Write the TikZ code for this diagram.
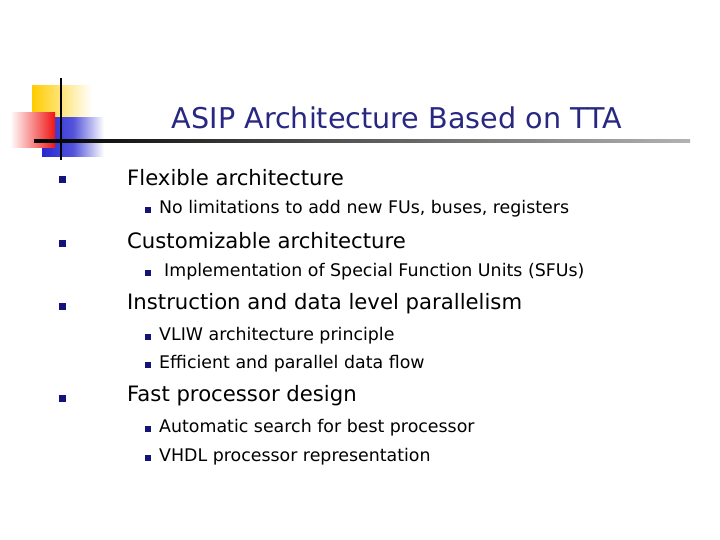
\documentclass[tikz,border=0pt]{standalone}
\usepackage{fontspec}
\setmainfont{DejaVu Sans}
\definecolor{navy}{RGB}{40,40,130}
\definecolor{bul}{RGB}{20,20,120}
\definecolor{ylw}{RGB}{255,204,0}
\definecolor{rd}{RGB}{240,20,20}
\definecolor{bl}{RGB}{40,40,210}
\begin{document}
\begin{tikzpicture}[x=1pt,y=-1pt,
  lone/.style={anchor=west,inner sep=0pt,font=\fontsize{21.2}{24}\selectfont},
  ltwo/.style={anchor=west,inner sep=0pt,font=\fontsize{17.4}{20}\selectfont},
  bone/.style={fill=bul,minimum size=7pt,inner sep=0pt},
  btwo/.style={fill=bul,minimum size=5.5pt,inner sep=0pt}]
\useasboundingbox (0,0) rectangle (720,540);
\fill[white] (0,0) rectangle (720,540);
% logo
\shade[left color=ylw,right color=white] (32,86) rectangle (92,122);
\shade[left color=bl,right color=white,middle color=bl!80] (42,118) rectangle (104,157);
\shade[left color=white,right color=rd] (10,113) rectangle (55,148);
\draw[line width=2pt] (61,78) -- (61,160);
\shade[left color=black,right color=black!30] (34,140) rectangle (690,142.5);
% title
\node[inner sep=0pt,text=navy,font=\fontsize{28.6}{32}\selectfont] (title) at (397,118) {ASIP Architecture Based on TTA};
% items
\node[bone] (b1) at (62,180) {}; \node[lone] (t1) at (127,178) {Flexible architecture};
\node[btwo] (b11) at (148,210) {}; \node[ltwo] (t11) at (159,209) {No limitations to add new FUs, buses, registers};
\node[bone] (b2) at (62,243) {}; \node[lone] (t2) at (127,241) {Customizable architecture};
\node[btwo] (b21) at (148,273) {}; \node[ltwo] (t21) at (164,272) {Implementation of Special Function Units (SFUs)};
\node[bone] (b3) at (62,306) {}; \node[lone] (t3) at (127,304) {Instruction and data level parallelism};
\node[btwo] (b31) at (148,337) {}; \node[ltwo] (t31) at (159,336) {VLIW architecture principle};
\node[btwo] (b32) at (148,365) {}; \node[ltwo] (t32) at (159,364) {Efficient and parallel data flow};
\node[bone] (b4) at (62,398) {}; \node[lone] (t4) at (127,396) {Fast processor design};
\node[btwo] (b41) at (148,429) {}; \node[ltwo] (t41) at (159,428) {Automatic search for best processor};
\node[btwo] (b42) at (148,458) {}; \node[ltwo] (t42) at (159,457) {VHDL processor representation};
\end{tikzpicture}
\end{document}
